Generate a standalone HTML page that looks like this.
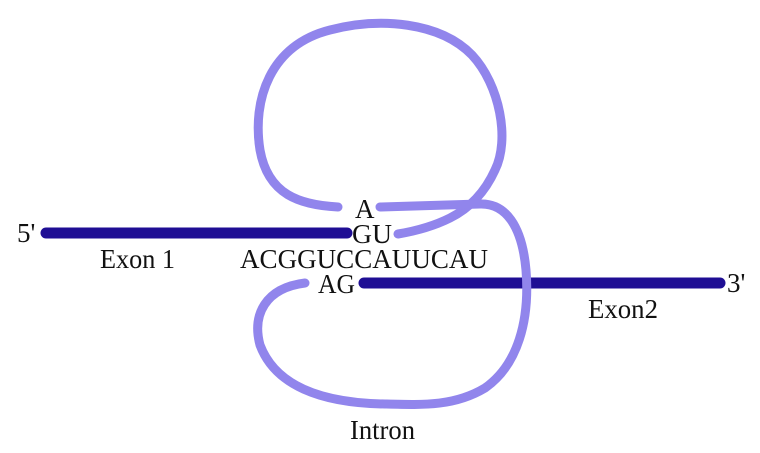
<!DOCTYPE html>
<html><head><meta charset="utf-8"><style>
html,body{margin:0;padding:0;background:#fff;}
svg{display:block;}
text{font-family:"Liberation Serif",serif;font-size:27px;fill:#111;}
</style></head><body>
<svg width="760" height="453" viewBox="0 0 760 453" xmlns="http://www.w3.org/2000/svg">
<g fill="none" stroke-linecap="round">
<line x1="46" y1="233" x2="347" y2="233" stroke="#1f0e94" stroke-width="11"/>
<line x1="364" y1="283" x2="720" y2="283" stroke="#1f0e94" stroke-width="11"/>
<path d="M338 207 C300 205 268 195 260 150 C252 100 270 45 330 30 C380 17 440 22 472 55 C500 85 510 140 495 170 C485 192 470 208 450 218 C430 228 410 232 398 234" stroke="#9185ec" stroke-width="9"/>
<path d="M380 207 L480 204 C505 203 522 225 526 270 C530 320 518 365 485 388 C455 406 425 405 385 404 C320 403 275 385 260 345 C252 315 265 288 305 283" stroke="#9185ec" stroke-width="9"/>
</g>
<text x="17" y="242" font-size="26">5'</text>
<text x="100" y="268" textLength="75" lengthAdjust="spacingAndGlyphs">Exon 1</text>
<text x="355" y="218">A</text>
<text x="352" y="243" textLength="40" lengthAdjust="spacingAndGlyphs">GU</text>
<text x="240" y="268" textLength="248" lengthAdjust="spacingAndGlyphs">ACGGUCCAUUCAU</text>
<text x="318" y="293" textLength="37" lengthAdjust="spacingAndGlyphs">AG</text>
<text x="727" y="292" font-size="26">3'</text>
<text x="588" y="318" textLength="70" lengthAdjust="spacingAndGlyphs">Exon2</text>
<text x="350" y="439" textLength="65" lengthAdjust="spacingAndGlyphs">Intron</text>
</svg>
</body></html>
